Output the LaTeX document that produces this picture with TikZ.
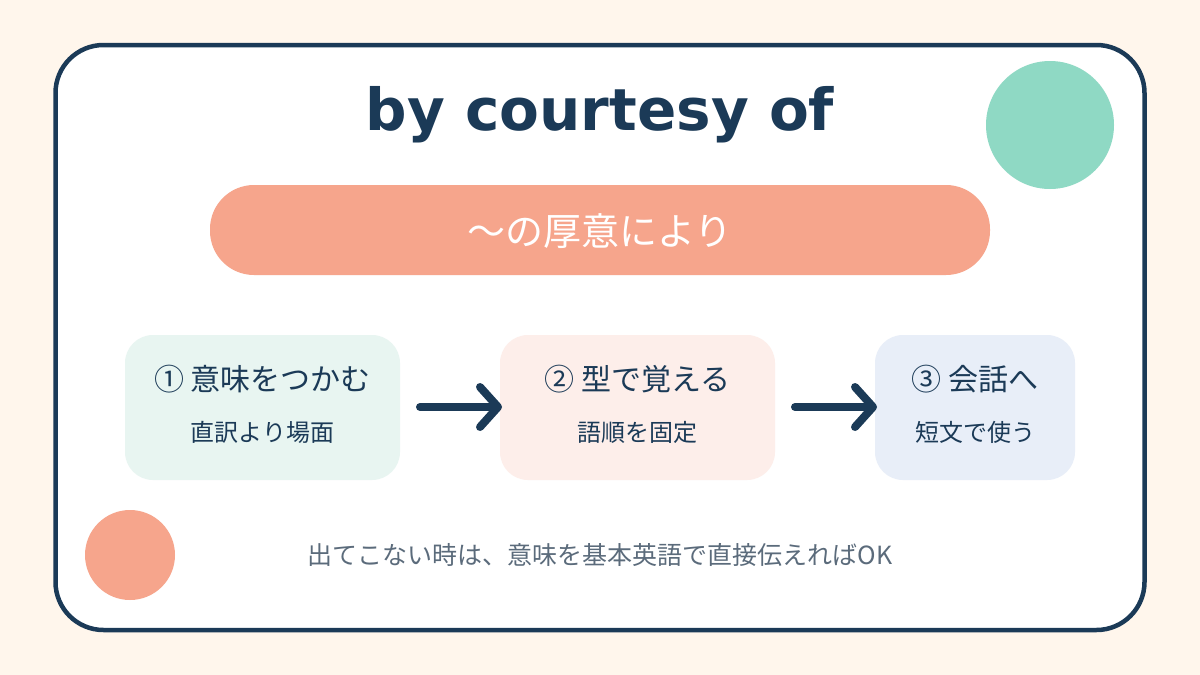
\documentclass[tikz,border=0pt]{standalone}
\usepackage{fontspec}
\setmainfont{DejaVu Sans}
\newfontfamily\jp{Noto Sans CJK JP}
\usetikzlibrary{arrows.meta}
\definecolor{navy}{HTML}{1B3A57}
\definecolor{bgcream}{HTML}{FFF6EC}
\definecolor{mint}{HTML}{8FD9C4}
\definecolor{salmon}{HTML}{F6A58C}
\definecolor{boxA}{HTML}{E8F5F1}
\definecolor{boxB}{HTML}{FDEEEA}
\definecolor{boxC}{HTML}{E8EEF8}
\definecolor{foot}{HTML}{5B6B7B}
\tikzset{
  stepbox/.style={rounded corners=28pt, inner sep=0pt},
  headtext/.style={font=\jp\fontsize{30}{36}\selectfont, text=navy},
  subtext/.style={font=\jp\fontsize{24}{28}\selectfont, text=navy},
  flowarrow/.style={draw=navy, line width=8pt, line cap=round,
    -{Straight Barb[length=18pt,width=40pt,line cap=round,line join=round]},
    shorten <=20pt},
}
\begin{document}
\begin{tikzpicture}[x=1pt,y=-1pt]
\fill[bgcream] (0,0) rectangle (1200,675);
\useasboundingbox (0,0) rectangle (1200,675);
\draw[navy, line width=4.5pt, fill=white, rounded corners=48pt] (55.5,45) rectangle (1144.5,630);
\fill[mint] (1050,125) circle (64);
\fill[salmon] (130,555) circle (45);
\node[font=\bfseries\fontsize{58}{64}\selectfont, text=navy] (title) at (600,115) {by courtesy of};
\fill[salmon, rounded corners=44pt] (210,185) rectangle (990,275);
\node[font=\jp\fontsize{38}{44}\selectfont, text=white] (pill) at (600,231) {〜の厚意により};
% boxes
\fill[boxA, rounded corners=28pt] (125,335) rectangle (400,480);
\fill[boxB, rounded corners=28pt] (500,335) rectangle (775,480);
\fill[boxC, rounded corners=28pt] (875,335) rectangle (1075,480);
\coordinate (b1e) at (400,407);
\coordinate (b2w) at (502,407);
\coordinate (b2e) at (775,407);
\coordinate (b3w) at (877,407);
\node[headtext] (h1) at (262.5,379) {① 意味をつかむ};
\node[subtext] (s1) at (262.5,432) {直訳より場面};
\node[headtext] (h2) at (637.5,379) {② 型で覚える};
\node[subtext] (s2) at (637.5,432) {語順を固定};
\node[headtext] (h3) at (975,379) {③ 会話へ};
\node[subtext] (s3) at (975,432) {短文で使う};
\draw[flowarrow] (b1e) -- (b2w);
\draw[flowarrow] (b2e) -- (b3w);
\node[font=\jp\fontsize{25}{30}\selectfont, text=foot] (footer) at (600,555) {出てこない時は、意味を基本英語で直接伝えればOK};
\end{tikzpicture}
\end{document}
